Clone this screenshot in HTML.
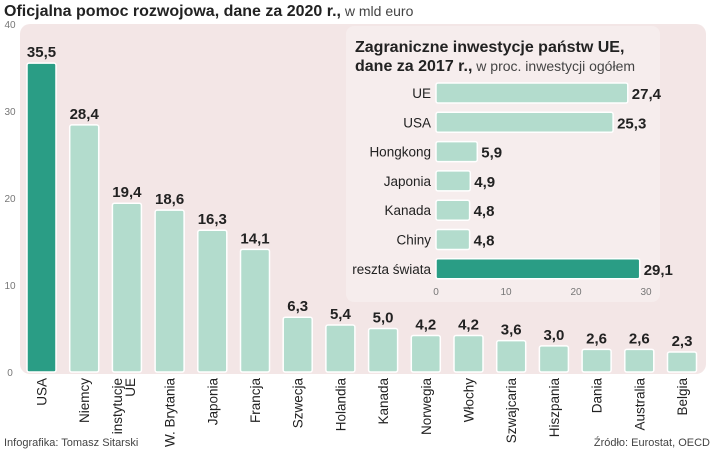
<!DOCTYPE html>
<html><head><meta charset="utf-8"><style>
body{margin:0;background:#fff;font-family:"Liberation Sans",sans-serif;}
svg text{font-family:"Liberation Sans",sans-serif;}
</style></head><body>
<svg id="c" width="720" height="453" xmlns="http://www.w3.org/2000/svg">
<text x="4" y="16" font-size="16" font-weight="bold" fill="#222">Oficjalna pomoc rozwojowa, dane za 2020 r.,<tspan font-weight="normal" font-size="14" fill="#444"> w mld euro</tspan></text>
<rect x="20" y="24" width="686" height="350" rx="10" fill="#f3e6e6"/>
<rect x="346" y="26" width="314" height="276" rx="8" fill="#f6eded"/>
<g id="main"></g><g id="inset"></g>
<text x="355" y="52" font-size="16" font-weight="bold" fill="#222">Zagraniczne inwestycje państw UE,</text>
<text x="355" y="71" font-size="16" font-weight="bold" fill="#222">dane za 2017 r.,<tspan font-weight="normal" font-size="14" fill="#444"> w proc. inwestycji ogółem</tspan></text>
<text x="4" y="446" font-size="11" fill="#444">Infografika: Tomasz Sitarski</text>
<text x="710" y="446" font-size="11" fill="#444" text-anchor="end">Źródło: Eurostat, OECD</text>
</svg>
<script>
const categories=["USA","Niemcy","instytucje UE","W. Brytania","Japonia","Francja","Szwecja","Holandia","Kanada","Norwegia","Włochy","Szwajcaria","Hiszpania","Dania","Australia","Belgia"];
const values=[35.5,28.4,19.4,18.6,16.3,14.1,6.3,5.4,5.0,4.2,4.2,3.6,3.0,2.6,2.6,2.3];
const yTicks=[0,10,20,30,40];
const insetCats=["UE","USA","Hongkong","Japonia","Kanada","Chiny","reszta świata"];
const insetVals=[27.4,25.3,5.9,4.9,4.8,4.8,29.1];
const insetTicks=[0,10,20,30];
const NS="http://www.w3.org/2000/svg";
function el(t,a,p,txt){const e=document.createElementNS(NS,t);for(const k in a)e.setAttribute(k,a[k]);if(txt!==undefined)e.textContent=txt;p.appendChild(e);return e;}
const y=v=>372-v*8.7, x=i=>27+i*42.7;
const m=document.getElementById('main');
yTicks.forEach(t=>{const e=el('text',{x:10,y:y(t)+4,'font-size':10,fill:'#777','text-anchor':'middle'},m,t);

});
values.forEach((v,i)=>{
const r=el('rect',{x:x(i),y:y(v),width:29,height:372-y(v),rx:2,fill:i==0?'#2a9d85':'#b3dccd',stroke:'#fff','stroke-width':1.5},m);


const t=el('text',{x:x(i)+14.5,y:y(v)-6,'font-size':15,'font-weight':'bold',fill:'#222','text-anchor':'middle'},m,v.toFixed(1).replace('.',','));


const parts=categories[i]=="instytucje UE"?["instytucje","UE"]:[categories[i]];
parts.forEach((p,j)=>{const cx=x(i)+14.5+(parts.length>1?(j==0?-5:8):5);
const l=el('text',{x:0,y:0,'font-size':13.5,fill:'#222','text-anchor':'end',transform:`translate(${cx},378) rotate(-90)`},m,p);

});
});
const g=document.getElementById('inset');
const ix=v=>436+v*7, iy=i=>83+i*29.3;
insetTicks.forEach(t=>{const e=el('text',{x:ix(t),y:295,'font-size':10,fill:'#777','text-anchor':'middle'},g,t);

});
insetVals.forEach((v,i)=>{
const r=el('rect',{x:ix(0),y:iy(i),width:ix(v)-ix(0),height:20,rx:2,fill:i==6?'#2a9d85':'#b3dccd',stroke:'#fff','stroke-width':1.5},g);


const l=el('text',{x:431,y:iy(i)+15,'font-size':13.5,fill:'#222','text-anchor':'end'},g,insetCats[i]);


const t=el('text',{x:ix(v)+4,y:iy(i)+16,'font-size':15,'font-weight':'bold',fill:'#222'},g,v.toFixed(1).replace('.',','));


});
</script>
</body></html>
